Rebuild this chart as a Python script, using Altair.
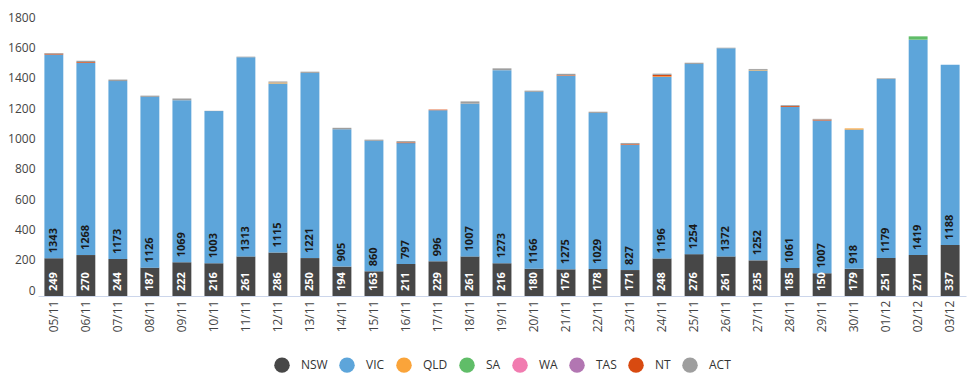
import altair as alt
import pandas as pd

dates = ["05/11", "06/11", "07/11", "08/11", "09/11", "10/11", "11/11", "12/11", "13/11",
         "14/11", "15/11", "16/11", "17/11", "18/11", "19/11", "20/11", "21/11", "22/11",
         "23/11", "24/11", "25/11", "26/11", "27/11", "28/11", "29/11", "30/11", "01/12",
         "02/12", "03/12"]
states = ["NSW", "VIC", "QLD", "SA", "WA", "TAS", "NT", "ACT"]
colors = ["#474747", "#5DA5DA", "#FAA43A", "#60BD68", "#F17CB0", "#B276B2", "#D84A10", "#9E9E9E"]
y_ticks = [0, 200, 400, 600, 800, 1000, 1200, 1400, 1600, 1800]

nsw = [249, 270, 244, 187, 222, 216, 261, 286, 250, 194, 163, 211, 229, 261, 216, 180, 176,
       178, 171, 248, 276, 261, 235, 185, 150, 179, 251, 271, 337]
vic = [1343, 1268, 1173, 1126, 1069, 1003, 1313, 1115, 1221, 905, 860, 797, 996, 1007, 1273,
       1166, 1275, 1029, 827, 1196, 1254, 1372, 1252, 1061, 1007, 918, 1179, 1419, 1188]
qld = [0, 0, 0, 0, 0, 0, 0, 6, 0, 0, 0, 0, 0, 0, 0, 0, 0, 0, 0, 4, 0, 0, 4, 0, 0, 8, 0, 0, 0]
sa = [0, 0, 0, 0, 0, 0, 0, 0, 0, 0, 0, 0, 0, 0, 0, 0, 0, 0, 0, 0, 0, 0, 0, 0, 0, 0, 0, 22, 0]
wa = [0] * 29
tas = [0] * 29
nt = [6, 5, 0, 0, 0, 0, 0, 0, 0, 0, 0, 5, 4, 0, 0, 0, 4, 0, 5, 10, 0, 0, 0, 6, 6, 0, 0, 0, 0]
act = [4, 8, 10, 8, 12, 2, 4, 8, 8, 10, 8, 8, 0, 15, 12, 8, 10, 8, 6, 8, 8, 4, 6, 6, 5, 0, 5, 0, 0]

series = [nsw, vic, qld, sa, wa, tas, nt, act]

rows = []
for si, (s, vals) in enumerate(zip(states, series)):
    for d, v in zip(dates, vals):
        rows.append({"date": d, "state": s, "value": v, "idx": si})
df = pd.DataFrame(rows)

lab_rows = []
for d, a, b in zip(dates, nsw, vic):
    lab_rows.append({"date": d, "state": "NSW", "label": str(a), "base": 0})
    lab_rows.append({"date": d, "state": "VIC", "label": str(b), "base": a})
lab = pd.DataFrame(lab_rows)

FONT = "Open Sans"

xenc = alt.X("date:N", sort=dates, title=None,
             scale=alt.Scale(paddingInner=0.41, paddingOuter=0.2),
             axis=alt.Axis(labelAngle=270, labelAlign="right", labelBaseline="middle",
                           labelPadding=4, ticks=False, domainColor="#ccd6eb",
                           labelColor="#444444", labelFontSize=12, labelFont=FONT,
                           labelOverlap=False))

bars = alt.Chart(df).mark_bar().encode(
    x=xenc,
    y=alt.Y("sum(value):Q", title=None,
            scale=alt.Scale(domain=[0, 1800], nice=False),
            axis=alt.Axis(values=y_ticks, grid=False, domain=False,
                          ticks=False, labelColor="#444444", labelFontSize=12,
                          labelFont=FONT, labelPadding=3, labelOffset=-6,
                          labelOverlap=False, labelFlush=False, format="d")),
    color=alt.Color("state:N", sort=states,
                    scale=alt.Scale(domain=states, range=colors),
                    legend=alt.Legend(title=None, orient="none", direction="horizontal",
                                      legendX=236, legendY=334, symbolType="circle",
                                      symbolSize=240, symbolStrokeWidth=0,
                                      labelFontSize=12, labelFont=FONT,
                                      labelColor="#333333", labelOffset=11,
                                      columnPadding=11)),
    order=alt.Order("idx:Q", sort="ascending"),
)

txt = alt.Chart(lab).mark_text(angle=270, align="left", baseline="middle", dx=5,
                               font=FONT, fontSize=11, fontWeight="bold").encode(
    x=alt.X("date:N", sort=dates, axis=None),
    y=alt.Y("base:Q", axis=None),
    text="label:N",
    color=alt.Color("state:N", scale=alt.Scale(domain=["NSW", "VIC"], range=["#ffffff", "#1a1a1a"]),
                    legend=None),
)

chart = alt.layer(bars, txt).resolve_scale(color="independent").resolve_axis(
    x="independent", y="independent"
).properties(
    width=928, height=273,
    autosize=alt.AutoSizeParams(type="none"),
    padding={"left": 30, "top": 15, "right": 4, "bottom": 78},
).configure_view(stroke=None)

chart.save("out.html", embed_options={"renderer": "svg", "actions": False})
